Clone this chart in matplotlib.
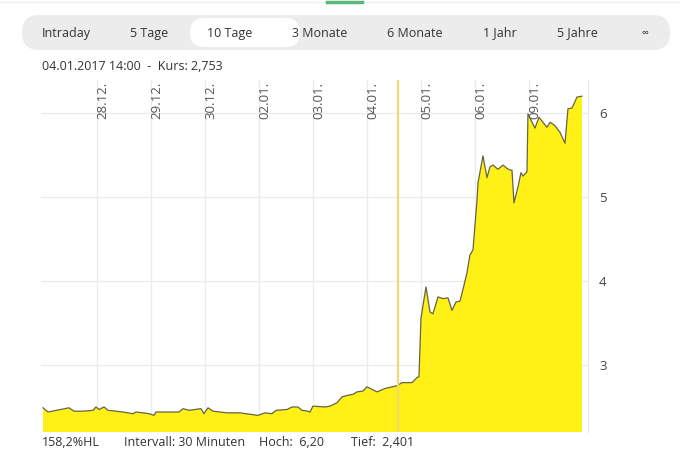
import matplotlib
matplotlib.use("Agg")
import matplotlib.pyplot as plt
from matplotlib.patches import FancyBboxPatch
from matplotlib.lines import Line2D
import matplotlib.transforms as mtransforms

plt.rcParams['font.family'] = ['Open Sans', 'DejaVu Sans']

# trading days shown (gridline at start of each day, first day unlabelled)
day_labels = ['28.12.', '29.12.', '30.12.', '02.01.', '03.01.', '04.01.', '05.01.', '06.01.', '09.01.']
day_ticks = [1, 2, 3, 4, 5, 6, 7, 8, 9]

# time in trading days since 27.12. and price
t = [0.000, 0.093, 0.481, 0.574, 0.741, 0.926, 0.981, 1.037, 1.130, 1.204,
     1.352, 1.481, 1.667, 1.722, 1.852, 1.963, 2.056, 2.093, 2.519, 2.593,
     2.704, 2.926, 2.981, 3.056, 3.148, 3.407, 3.648, 3.981, 4.111, 4.241,
     4.315, 4.519, 4.611, 4.722, 4.796, 4.907, 4.944, 5.000, 5.222, 5.315,
     5.444, 5.537, 5.648, 5.741, 5.815, 5.926, 6.000, 6.093, 6.185, 6.333,
     6.556, 6.648, 6.833, 6.926, 6.963, 7.000, 7.093, 7.167, 7.222, 7.315,
     7.407, 7.500, 7.574, 7.648, 7.722, 7.778, 7.852, 7.907, 7.963, 8.037,
     8.056, 8.148, 8.222, 8.278, 8.333, 8.426, 8.519, 8.593, 8.648, 8.685,
     8.722, 8.796, 8.852, 8.889, 8.963, 8.981, 9.111, 9.185, 9.259, 9.333,
     9.389, 9.481, 9.574, 9.667, 9.722, 9.796, 9.833, 9.889, 9.981]
kurs = [2.49, 2.44, 2.49, 2.45, 2.45, 2.46, 2.50, 2.47, 2.50, 2.46,
        2.45, 2.44, 2.42, 2.44, 2.43, 2.42, 2.401, 2.44, 2.44, 2.48,
        2.46, 2.48, 2.42, 2.49, 2.45, 2.43, 2.43, 2.40, 2.43, 2.42,
        2.46, 2.47, 2.50, 2.50, 2.46, 2.45, 2.44, 2.51, 2.50, 2.51,
        2.55, 2.62, 2.64, 2.65, 2.68, 2.69, 2.74, 2.71, 2.68, 2.72,
        2.753, 2.79, 2.79, 2.85, 2.86, 3.56, 3.93, 3.63, 3.61, 3.81,
        3.79, 3.80, 3.65, 3.75, 3.76, 3.90, 4.10, 4.31, 4.37, 4.96,
        5.17, 5.49, 5.23, 5.36, 5.38, 5.33, 5.38, 5.34, 5.32, 5.32,
        4.93, 5.12, 5.29, 5.25, 5.30, 5.99, 5.82, 5.95, 5.89, 5.83,
        5.89, 5.85, 5.77, 5.64, 6.05, 6.06, 6.11, 6.19, 6.20]
marker_t = 6.574  # 04.01.2017 14:00

tabs = ['Intraday', '5 Tage', '10 Tage', '3 Monate', '6 Monate', '1 Jahr', '5 Jahre', '\u221e']
tab_x = [66, 149, 230, 320, 415, 500, 577, 645]

W, H = 680, 461
fig = plt.figure(figsize=(W / 100, H / 100), dpi=100)
fig.patch.set_facecolor('white')


def px(x, y):
    # top-left pixel coords -> figure fraction
    return x / W, 1 - y / H


ax = fig.add_axes([41 / W, 1 - 432 / H, (588 - 41) / W, (432 - 80) / H])
ax.fill_between(t, kurs, 0, color='#fff115', lw=0, zorder=2)
ax.plot(t, kurs, color='#66634a', lw=0.9, zorder=3)
ax.axvline(marker_t, color='#f0d872', lw=1.6, zorder=4)

ax.set_xlim(-0.037, 10.093)
ax.set_ylim(2.202, 6.393)
ax.set_yticks([3, 4, 5, 6])
ax.set_xticks(day_ticks)
ax.yaxis.tick_right()
ax.tick_params(axis='y', length=0, pad=8, labelsize=9.5, labelcolor='#444444')
ax.tick_params(axis='x', length=0, labelbottom=False)
ax.grid(True, color='#ebebeb', lw=0.9, zorder=1)
for s in ['top', 'left', 'bottom']:
    ax.spines[s].set_visible(False)
ax.spines['right'].set_color('#e6eaef')
ax.set_axisbelow(True)

trans = mtransforms.blended_transform_factory(ax.transData, ax.transAxes)
for d, lab in zip(day_ticks, day_labels):
    ax.text(d + 0.11, 0.995, lab, rotation=90, ha='center', va='top', fontsize=9.5,
            color='#555555', transform=trans, zorder=5)

# top bar
fig.add_artist(Line2D([0, 1], [1 - 2 / H] * 2, color='#eeeeee', lw=1))
fig.add_artist(Line2D([327 / W, 362 / W], [1 - 2 / H] * 2, color='#5cb87a', lw=2.5))

# tab pill (display pixels, origin bottom-left)
fig.add_artist(FancyBboxPatch((22, H - 50), 648, 35,
                              boxstyle='round,pad=0,rounding_size=17', transform=None,
                              facecolor='#ececec', edgecolor='none'))
fig.add_artist(FancyBboxPatch((190, H - 47), 110, 29,
                              boxstyle='round,pad=0,rounding_size=14.5', transform=None,
                              facecolor='white', edgecolor='none'))
for lab, x in zip(tabs, tab_x):
    fig.text(*px(x, 33), lab, ha='center', va='center',
             fontsize=7 if lab == '\u221e' else 9, color='#333333')

fig.text(*px(42, 67), '04.01.2017 14:00  -  Kurs: 2,753', ha='left', va='center',
         fontsize=9, color='#333333')

fig.text(*px(42, 442), '158,2%HL', ha='left', va='center', fontsize=9, color='#333333')
fig.text(*px(124, 442), 'Intervall: 30 Minuten', ha='left', va='center', fontsize=9, color='#333333')
fig.text(*px(259, 442), 'Hoch:  6,20', ha='left', va='center', fontsize=9, color='#333333')
fig.text(*px(351, 442), 'Tief:  2,401', ha='left', va='center', fontsize=9, color='#333333')

fig.savefig('out.png', dpi=100, facecolor='white')
